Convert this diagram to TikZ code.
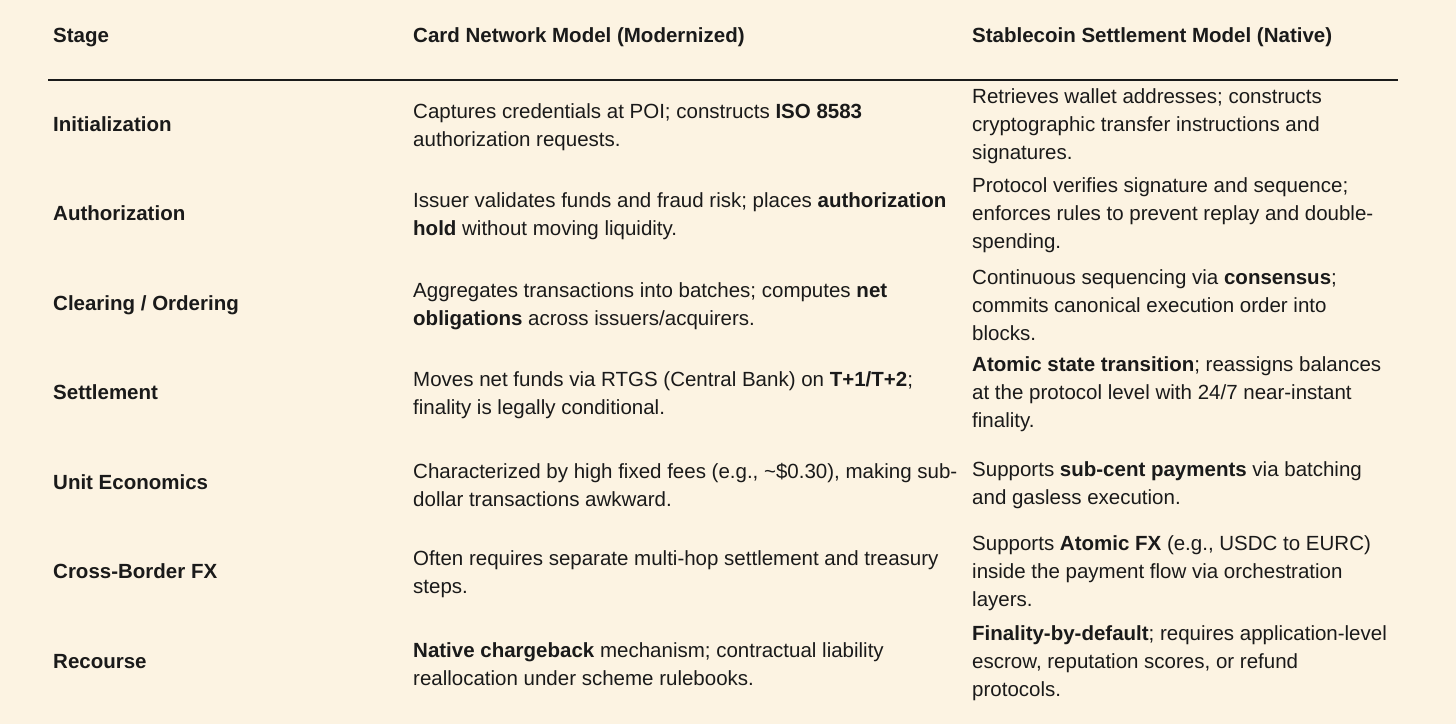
\documentclass[tikz,border=0pt]{standalone}
\usepackage{fontspec}
\setmainfont{Liberation Sans}
\definecolor{bg}{HTML}{FCF3E2}
\definecolor{ink}{HTML}{1A1A1A}
\begin{document}
\begin{tikzpicture}[x=1pt,y=-1pt,
  cell/.style={anchor=west,align=left,inner sep=0pt,text=ink,font=\fontsize{20.5}{28}\selectfont},
  head/.style={cell,font=\fontsize{20.5}{28}\selectfont\bfseries,text height=15pt,text depth=4.5pt}]
\fill[bg] (0,0) rectangle (1456,724);
\useasboundingbox (0,0) rectangle (1456,724);
\node[head] (h1) at (53,37) {Stage};
\node[head] (h2) at (413,37) {Card Network Model (Modernized)};
\node[head] (h3) at (972,37) {Stablecoin Settlement Model (Native)};
\draw[line width=1.6pt,ink] (48,80) -- (1398,80);
% rows
\node[head] (s1) at (53,126) {Initialization};
\node[cell] (c1) at (413,127) {Captures credentials at POI; constructs \textbf{ISO 8583}\\authorization requests.};
\node[cell] (d1) at (972,126) {Retrieves wallet addresses; constructs\\cryptographic transfer instructions and\\signatures.};
\node[head] (s2) at (53,215) {Authorization};
\node[cell] (c2) at (413,216) {Issuer validates funds and fraud risk; places \textbf{authorization}\\\textbf{hold} without moving liquidity.};
\node[cell] (d2) at (972,215) {Protocol verifies signature and sequence;\\enforces rules to prevent replay and double-\\spending.};
\node[head] (s3) at (53,305) {Clearing / Ordering};
\node[cell] (c3) at (413,306) {Aggregates transactions into batches; computes \textbf{net}\\\textbf{obligations} across issuers/acquirers.};
\node[cell] (d3) at (972,305) {Continuous sequencing via \textbf{consensus};\\commits canonical execution order into\\blocks.};
\node[head] (s4) at (53,394) {Settlement};
\node[cell] (c4) at (413,395) {Moves net funds via RTGS (Central Bank) on \textbf{T+1/T+2};\\finality is legally conditional.};
\node[cell] (d4) at (972,394) {\textbf{Atomic state transition}; reassigns balances\\at the protocol level with 24/7 near-instant\\finality.};
\node[head] (s5) at (53,484) {Unit Economics};
\node[cell] (c5) at (413,485) {Characterized by high fixed fees (e.g., \textasciitilde\$0.30), making sub-\\dollar transactions awkward.};
\node[cell] (d5) at (972,485) {Supports \textbf{sub-cent payments} via batching\\and gasless execution.};
\node[head] (s6) at (53,573) {Cross-Border FX};
\node[cell] (c6) at (413,574) {Often requires separate multi-hop settlement and treasury\\steps.};
\node[cell] (d6) at (972,573) {Supports \textbf{Atomic FX} (e.g., USDC to EURC)\\inside the payment flow via orchestration\\layers.};
\node[head] (s7) at (53,663) {Recourse};
\node[cell] (c7) at (413,664) {\textbf{Native chargeback} mechanism; contractual liability\\reallocation under scheme rulebooks.};
\node[cell] (d7) at (972,663) {\textbf{Finality-by-default}; requires application-level\\escrow, reputation scores, or refund\\protocols.};
\end{tikzpicture}
\end{document}
